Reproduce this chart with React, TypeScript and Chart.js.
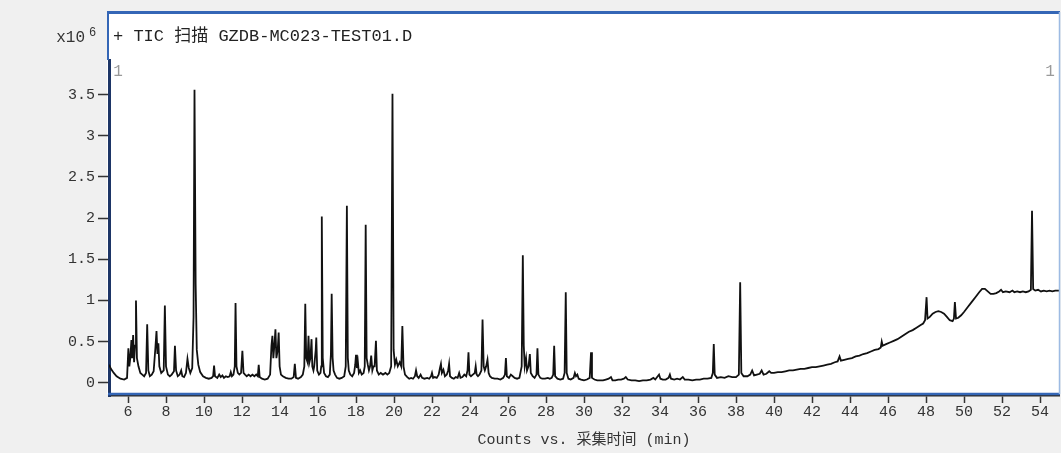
import React, { useEffect, useRef } from "react";
import { Chart, registerables } from "chart.js";

Chart.register(...registerables);

// Total ion chromatogram, retention time (min) vs counts (x10^6)
const trace05: [number, number][] = [
  [5.0, 0.22], [5.1, 0.17], [5.25, 0.12], [5.4, 0.08], [5.6, 0.05], [5.8, 0.04], [5.95, 0.06],
  [6.02, 0.42], [6.07, 0.2], [6.12, 0.3], [6.18, 0.52], [6.22, 0.3], [6.27, 0.58], [6.32, 0.25],
  [6.37, 0.45], [6.42, 1.0], [6.47, 0.3], [6.55, 0.2], [6.65, 0.12], [6.75, 0.1], [6.85, 0.08],
  [6.95, 0.12], [7.01, 0.71], [7.07, 0.15], [7.15, 0.08], [7.25, 0.1], [7.35, 0.14], [7.44, 0.42],
  [7.5, 0.63], [7.55, 0.35], [7.6, 0.48], [7.65, 0.2], [7.75, 0.12], [7.88, 0.15], [7.94, 0.94],
  [8.0, 0.2], [8.1, 0.1], [8.2, 0.08], [8.3, 0.1], [8.42, 0.14], [8.47, 0.45], [8.53, 0.15],
  [8.62, 0.08], [8.72, 0.1], [8.8, 0.15], [8.86, 0.08], [8.95, 0.07], [9.05, 0.12], [9.13, 0.29],
  [9.2, 0.18], [9.28, 0.12], [9.38, 0.18], [9.45, 0.8], [9.5, 3.56], [9.56, 1.2], [9.62, 0.4],
  [9.7, 0.22], [9.8, 0.13], [9.95, 0.08], [10.1, 0.06], [10.25, 0.05], [10.4, 0.06],
];

const trace10: [number, number][] = [
  [10.48, 0.08], [10.53, 0.21], [10.58, 0.08], [10.7, 0.06], [10.8, 0.1], [10.88, 0.07],
  [10.97, 0.09], [11.05, 0.06], [11.15, 0.08], [11.25, 0.07], [11.35, 0.08], [11.41, 0.13],
  [11.47, 0.08], [11.55, 0.1], [11.62, 0.2], [11.66, 0.97], [11.71, 0.2], [11.78, 0.12],
  [11.86, 0.1], [11.95, 0.12], [12.02, 0.39], [12.08, 0.12], [12.16, 0.1], [12.25, 0.08],
  [12.35, 0.1], [12.45, 0.08], [12.55, 0.1], [12.65, 0.08], [12.75, 0.1], [12.83, 0.08],
  [12.88, 0.22], [12.93, 0.07], [13.05, 0.05], [13.2, 0.04], [13.35, 0.05], [13.48, 0.1],
  [13.55, 0.45], [13.6, 0.57], [13.65, 0.3], [13.72, 0.5], [13.76, 0.65], [13.81, 0.3],
  [13.88, 0.4], [13.93, 0.61], [13.98, 0.2], [14.05, 0.1], [14.15, 0.08], [14.3, 0.06],
  [14.45, 0.05], [14.6, 0.05], [14.72, 0.07], [14.78, 0.23], [14.84, 0.06], [14.95, 0.05],
  [15.1, 0.07], [15.2, 0.1], [15.28, 0.2], [15.33, 0.96], [15.38, 0.3], [15.45, 0.25],
  [15.5, 0.57], [15.55, 0.25], [15.6, 0.3], [15.66, 0.53], [15.7, 0.2], [15.76, 0.15],
  [15.8, 0.2], [15.88, 0.4], [15.91, 0.55], [15.96, 0.15], [16.05, 0.1], [16.13, 0.12],
];

const trace16: [number, number][] = [
  [16.17, 0.2], [16.2, 2.02], [16.25, 0.3], [16.32, 0.12], [16.42, 0.08], [16.52, 0.07],
  [16.62, 0.1], [16.68, 0.35], [16.72, 1.08], [16.77, 0.3], [16.82, 0.15], [16.9, 0.1],
  [17.0, 0.06], [17.12, 0.05], [17.25, 0.06], [17.38, 0.08], [17.46, 0.2], [17.52, 2.15],
  [17.57, 0.3], [17.62, 0.15], [17.7, 0.1], [17.8, 0.08], [17.9, 0.12], [17.96, 0.22],
  [18.0, 0.34], [18.05, 0.18], [18.1, 0.25], [18.15, 0.12], [18.22, 0.15], [18.3, 0.1],
  [18.4, 0.12], [18.46, 0.2], [18.51, 1.92], [18.56, 0.3], [18.62, 0.22], [18.68, 0.15],
  [18.74, 0.2], [18.8, 0.33], [18.86, 0.15], [18.92, 0.2], [18.98, 0.2], [19.05, 0.51],
  [19.1, 0.15], [19.2, 0.1], [19.3, 0.12], [19.42, 0.1], [19.55, 0.12], [19.65, 0.1],
  [19.75, 0.12], [19.85, 0.2], [19.92, 3.51], [19.98, 0.4], [20.05, 0.22], [20.12, 0.28],
  [20.2, 0.2], [20.3, 0.25], [20.38, 0.2], [20.44, 0.69], [20.5, 0.2], [20.58, 0.1],
  [20.7, 0.07], [20.8, 0.05], [20.9, 0.06], [21.0, 0.05],
];

const trace21: [number, number][] = [
  [21.1, 0.08], [21.16, 0.15], [21.22, 0.08], [21.3, 0.06], [21.4, 0.1], [21.48, 0.06],
  [21.6, 0.05], [21.75, 0.06], [21.85, 0.05], [21.95, 0.08], [22.0, 0.12], [22.06, 0.06],
  [22.15, 0.07], [22.25, 0.06], [22.35, 0.1], [22.42, 0.18], [22.47, 0.23], [22.52, 0.12],
  [22.6, 0.16], [22.68, 0.08], [22.78, 0.1], [22.85, 0.15], [22.9, 0.23], [22.95, 0.08],
  [23.05, 0.06], [23.15, 0.05], [23.25, 0.07], [23.35, 0.06], [23.43, 0.12], [23.5, 0.06],
  [23.6, 0.07], [23.7, 0.1], [23.8, 0.08], [23.87, 0.15], [23.92, 0.37], [23.97, 0.1],
  [24.05, 0.08], [24.15, 0.1], [24.25, 0.12], [24.3, 0.2], [24.35, 0.1], [24.42, 0.08],
  [24.5, 0.1], [24.6, 0.15], [24.66, 0.77], [24.72, 0.2], [24.78, 0.15], [24.85, 0.2],
  [24.92, 0.28], [24.98, 0.12], [25.05, 0.08], [25.15, 0.06], [25.3, 0.05], [25.45, 0.05],
  [25.6, 0.04], [25.75, 0.06], [25.84, 0.1], [25.89, 0.3], [25.94, 0.08], [26.05, 0.06],
  [26.15, 0.1], [26.25, 0.08], [26.35, 0.06], [26.48, 0.05], [26.6, 0.06], [26.72, 0.2],
  [26.78, 1.55], [26.83, 0.45], [26.88, 0.2], [26.95, 0.3], [27.0, 0.15], [27.08, 0.2],
  [27.15, 0.35], [27.2, 0.12], [27.3, 0.08], [27.4, 0.06], [27.5, 0.1], [27.55, 0.42],
  [27.6, 0.1], [27.7, 0.06], [27.8, 0.05], [27.95, 0.05], [28.1, 0.06], [28.2, 0.05],
  [28.3, 0.06], [28.38, 0.1], [28.43, 0.45], [28.48, 0.08], [28.6, 0.05], [28.75, 0.04],
  [28.9, 0.05], [28.98, 0.12], [29.04, 1.1], [29.09, 0.12], [29.18, 0.05], [29.3, 0.04],
  [29.45, 0.06], [29.52, 0.12], [29.58, 0.08], [29.65, 0.1], [29.72, 0.05], [29.85, 0.04],
  [30.0, 0.03], [30.15, 0.04], [30.3, 0.06], [30.37, 0.37], [30.42, 0.06], [30.55, 0.04],
  [30.7, 0.03], [30.85, 0.03],
];

const trace31: [number, number][] = [
  [31.0, 0.03], [31.15, 0.04], [31.3, 0.05], [31.42, 0.07], [31.5, 0.03], [31.65, 0.03],
  [31.8, 0.04], [31.95, 0.04], [32.1, 0.05], [32.2, 0.07], [32.3, 0.04], [32.5, 0.03],
  [32.7, 0.03], [32.9, 0.02], [33.1, 0.03], [33.3, 0.03], [33.5, 0.04], [33.65, 0.06],
  [33.75, 0.04], [33.85, 0.07], [33.95, 0.1], [34.02, 0.05], [34.15, 0.04], [34.3, 0.04],
  [34.45, 0.06], [34.52, 0.1], [34.58, 0.05], [34.75, 0.04], [34.9, 0.05], [35.05, 0.04],
  [35.2, 0.07], [35.3, 0.04], [35.5, 0.04], [35.7, 0.03], [35.9, 0.04], [36.1, 0.04],
  [36.3, 0.05], [36.5, 0.05], [36.7, 0.06], [36.78, 0.12], [36.83, 0.47], [36.88, 0.1],
  [37.0, 0.06], [37.2, 0.07], [37.4, 0.06], [37.6, 0.08], [37.8, 0.07], [38.0, 0.07],
  [38.15, 0.1], [38.22, 1.22], [38.28, 0.12], [38.4, 0.08], [38.6, 0.08], [38.75, 0.1],
  [38.85, 0.15], [38.95, 0.09], [39.1, 0.1], [39.25, 0.11], [39.35, 0.15], [39.45, 0.1],
  [39.6, 0.11], [39.75, 0.14], [39.85, 0.12], [40.0, 0.12], [40.2, 0.13], [40.4, 0.13],
  [40.6, 0.14], [40.8, 0.15], [41.0, 0.15], [41.2, 0.16], [41.4, 0.17], [41.6, 0.17],
  [41.8, 0.18], [42.0, 0.19],
];

const trace42: [number, number][] = [
  [42.2, 0.19], [42.4, 0.2], [42.6, 0.21], [42.8, 0.22], [43.0, 0.23], [43.2, 0.25],
  [43.35, 0.26], [43.45, 0.32], [43.52, 0.27], [43.7, 0.28], [43.9, 0.29], [44.1, 0.3],
  [44.3, 0.32], [44.5, 0.33], [44.7, 0.35], [44.9, 0.36], [45.1, 0.38], [45.3, 0.4],
  [45.5, 0.41], [45.62, 0.43], [45.67, 0.5], [45.72, 0.45], [45.9, 0.47], [46.1, 0.49],
  [46.3, 0.51], [46.5, 0.53], [46.7, 0.56], [46.9, 0.59], [47.1, 0.62], [47.3, 0.64],
  [47.5, 0.67], [47.7, 0.7], [47.85, 0.72], [47.95, 0.76], [48.03, 1.04], [48.08, 0.78],
  [48.2, 0.8], [48.35, 0.84], [48.5, 0.86], [48.65, 0.87], [48.8, 0.86], [48.95, 0.84],
  [49.1, 0.8], [49.25, 0.76], [49.4, 0.75], [49.47, 0.78], [49.52, 0.98], [49.58, 0.78],
  [49.7, 0.79], [49.85, 0.82], [50.0, 0.86], [50.2, 0.92], [50.4, 0.98], [50.6, 1.04],
  [50.8, 1.1], [50.95, 1.14], [51.1, 1.14], [51.25, 1.11], [51.4, 1.08], [51.55, 1.08],
  [51.7, 1.09], [51.85, 1.11], [51.95, 1.13], [52.05, 1.1], [52.2, 1.11], [52.4, 1.1],
  [52.55, 1.12], [52.65, 1.1], [52.8, 1.11], [52.95, 1.1], [53.1, 1.11], [53.25, 1.1],
  [53.4, 1.11], [53.52, 1.13], [53.58, 2.09], [53.64, 1.14], [53.75, 1.12], [53.9, 1.13],
  [54.05, 1.11], [54.2, 1.12], [54.35, 1.11], [54.5, 1.12], [54.65, 1.11], [54.8, 1.12],
  [55.0, 1.12],
];

const xTickValues = [6, 8, 10, 12, 14, 16, 18, 20, 22, 24, 26, 28, 30, 32, 34, 36, 38, 40, 42, 44, 46, 48, 50, 52, 54];
const yTickValues = [0, 0.5, 1, 1.5, 2, 2.5, 3, 3.5];
const X_MIN = 5;
const X_MAX = 55;
const Y_MIN = -0.16;
const Y_MAX = 3.92;

const plotTitle = "+ TIC 扫描 GZDB-MC023-TEST01.D";
const xAxisTitle = "Counts vs. 采集时间 (min)";
const yUnitBase = "x10";
const yUnitExp = "6";
const scanMarker = "1";

const MONO = "'Liberation Mono', 'Noto Sans CJK SC', monospace";

export default function App() {
  const ref = useRef<HTMLCanvasElement>(null);

  useEffect(() => {
    const canvas = ref.current;
    if (!canvas) return;
    const points = [...trace05, ...trace10, ...trace16, ...trace21, ...trace31, ...trace42].map(
      ([x, y]) => ({ x, y })
    );

    const framePlugin = {
      id: "ticFrame",
      beforeDraw(chart: any) {
        const { ctx, chartArea } = chart;
        ctx.save();
        ctx.fillStyle = "#f0f0f0";
        ctx.fillRect(0, 0, chart.width, chart.height);
        ctx.fillStyle = "#ffffff";
        ctx.fillRect(chartArea.left - 2, 12, chartArea.right - chartArea.left + 3, chartArea.bottom - 14);
        ctx.restore();
      },
      afterDraw(chart: any) {
        const { ctx, chartArea } = chart;
        const L = chartArea.left;
        const R = chartArea.right;
        const B = chartArea.bottom;
        ctx.save();
        // panel frame
        ctx.strokeStyle = "#3466b6";
        ctx.lineWidth = 3;
        ctx.beginPath();
        ctx.moveTo(L - 2, 12.5);
        ctx.lineTo(R + 1, 12.5);
        ctx.stroke();
        ctx.lineWidth = 2;
        ctx.beginPath();
        ctx.moveTo(L - 1, 12);
        ctx.lineTo(L - 1, chartArea.top);
        ctx.stroke();
        ctx.lineWidth = 2.5;
        ctx.beginPath();
        ctx.moveTo(L - 1, B - 2);
        ctx.lineTo(R + 1, B - 2);
        ctx.stroke();
        ctx.strokeStyle = "#9dbbe3";
        ctx.lineWidth = 1.5;
        ctx.beginPath();
        ctx.moveTo(R + 0.5, 12);
        ctx.lineTo(R + 0.5, B - 2);
        ctx.stroke();

        // title inside panel
        ctx.fillStyle = "#222";
        ctx.textBaseline = "alphabetic";
        ctx.textAlign = "left";
        ctx.font = `17px ${MONO}`;
        ctx.fillText(plotTitle, L + 4, 41);

        // y unit label
        ctx.fillStyle = "#333";
        ctx.textAlign = "right";
        ctx.font = `16px ${MONO}`;
        ctx.fillText(yUnitBase, 85, 42);
        ctx.textAlign = "left";
        ctx.font = `12px ${MONO}`;
        ctx.fillText(yUnitExp, 89, 36);

        // scan markers
        ctx.fillStyle = "#9a9a9a";
        ctx.font = `16px ${MONO}`;
        ctx.textAlign = "center";
        ctx.fillText(scanMarker, L + 9, 76);
        ctx.fillText(scanMarker, R - 9, 76);
        ctx.restore();
      },
    };

    const chart = new Chart(canvas, {
      type: "line",
      data: {
        datasets: [
          {
            data: points,
            borderColor: "#111111",
            borderWidth: 1.8,
            pointRadius: 0,
            tension: 0,
            fill: false,
          },
        ],
      },
      options: {
        animation: false,
        responsive: false,
        parsing: false,
        normalized: true,
        layout: { padding: { left: 0, top: 60, right: 2, bottom: 0 } },
        plugins: {
          legend: { display: false },
          tooltip: { enabled: false },
          title: { display: false },
        },
        scales: {
          x: {
            type: "linear",
            min: X_MIN,
            max: X_MAX,
            afterBuildTicks: (scale: any) => {
              scale.ticks = xTickValues.map((v) => ({ value: v }));
            },
            afterFit: (scale: any) => {
              scale.height = 57;
            },
            grid: {
              display: true,
              drawOnChartArea: false,
              drawTicks: true,
              tickLength: 7,
              color: "#333",
              tickWidth: 1.5,
            },
            border: { display: true, color: "#2a2a2a", width: 1.5 },
            ticks: {
              color: "#333",
              padding: 0,
              maxRotation: 0,
              autoSkip: false,
              callback: (v: any) => String(v),
              font: { family: MONO, size: 15 },
            },
            title: {
              display: true,
              text: xAxisTitle,
              color: "#333",
              font: { family: MONO, size: 15 },
              padding: { top: 0, bottom: 4 },
            },
          },
          y: {
            type: "linear",
            min: Y_MIN,
            max: Y_MAX,
            afterBuildTicks: (scale: any) => {
              scale.ticks = yTickValues.map((v) => ({ value: v }));
            },
            afterFit: (scale: any) => {
              scale.width = 109;
            },
            grid: {
              display: true,
              drawOnChartArea: false,
              drawTicks: true,
              tickLength: 11,
              color: "#333",
              tickWidth: 1.5,
            },
            border: { display: true, color: "#1d3566", width: 3 },
            ticks: {
              color: "#333",
              padding: 3,
              autoSkip: false,
              callback: (v: any) => String(v),
              font: { family: MONO, size: 15 },
            },
          },
        },
      },
      plugins: [framePlugin],
    });

    return () => chart.destroy();
  }, []);

  return (
    <div
      style={{
        position: "fixed",
        left: 0,
        top: 0,
        width: 1061,
        height: 453,
        background: "#f0f0f0",
      }}
    >
      <canvas ref={ref} width={1061} height={453} style={{ display: "block", width: 1061, height: 453 }} />
    </div>
  );
}
